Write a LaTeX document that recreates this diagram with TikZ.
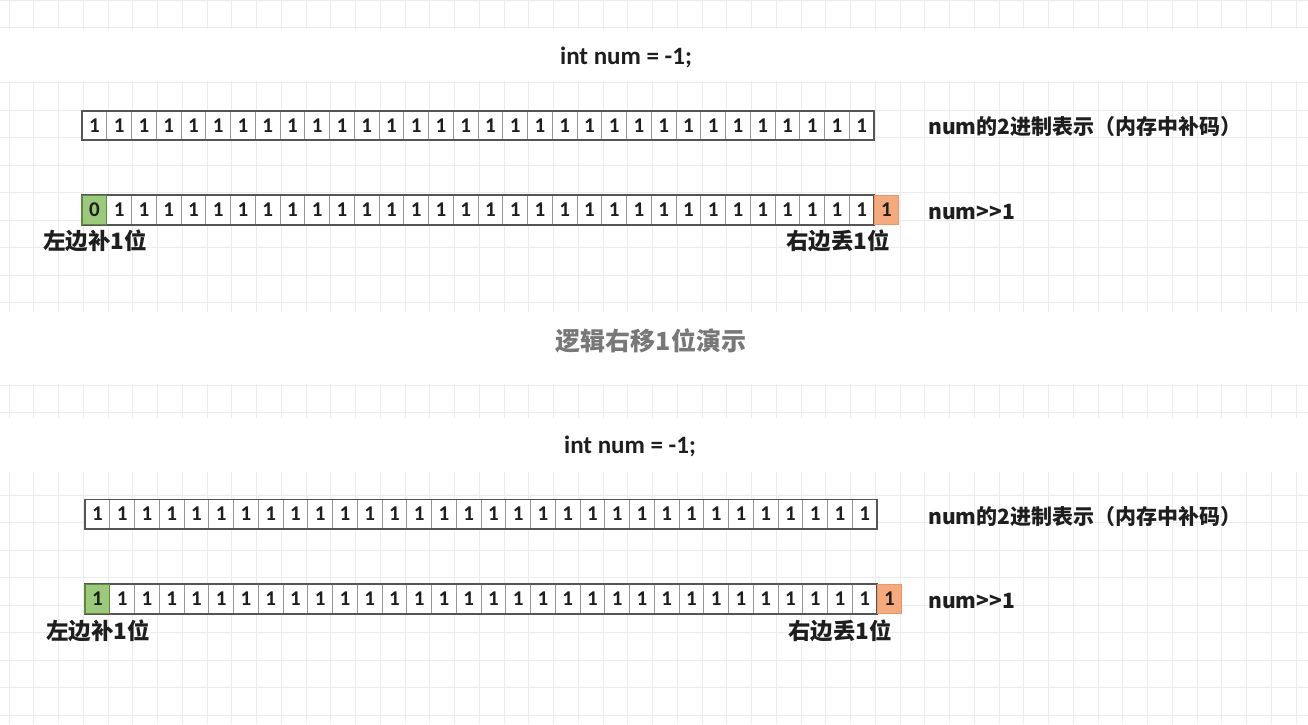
\documentclass[tikz,border=0pt]{standalone}
\usepackage{fontspec}
\setmainfont{Noto Sans CJK SC}
\newfontfamily\digitfont{Carlito}
\definecolor{gridc}{RGB}{236,236,236}
\definecolor{sepc}{RGB}{150,150,150}
\definecolor{framec}{RGB}{85,85,85}
\definecolor{greenfill}{RGB}{156,202,123}
\definecolor{greenline}{RGB}{95,135,65}
\definecolor{orangefill}{RGB}{244,170,125}
\definecolor{orangeline}{RGB}{235,150,100}
\definecolor{capc}{RGB}{120,120,120}
\definecolor{txtc}{RGB}{30,30,30}
\tikzset{
  x=1pt, y=-1pt,
  bit/.style={draw=sepc, line width=0.7pt, fill=white, minimum width=24.75pt, minimum height=28.5pt,
    inner sep=0pt, text=txtc, font=\digitfont\bfseries\fontsize{21}{21}\selectfont},
  gbit/.style={bit, fill=greenfill, draw=greenline, line width=1.2pt},
  obit/.style={bit, fill=orangefill, draw=orangeline, line width=1pt},
  frame/.style={draw=framec, line width=1.8pt},
  codetxt/.style={text=txtc, font=\digitfont\bfseries\fontsize{25}{25}\selectfont},
  lbl/.style={text=txtc, font=\bfseries\fontsize{21}{21}\selectfont, inner sep=0pt},
  sublbl/.style={lbl, font=\bfseries\fontsize{22.5}{22.5}\selectfont},
  captiontxt/.style={text=capc, font=\bfseries\fontsize{25}{25}\selectfont},
}
\begin{document}
\begin{tikzpicture}
\useasboundingbox (0,0) rectangle (1308,724);
\fill[white] (0,0) rectangle (1308,724);
% background grid
\foreach \gx in {0,...,53} \draw[gridc, line width=1pt] ({9+\gx*24.75},0) -- ({9+\gx*24.75},724);
\foreach \gy in {0,...,26} \draw[gridc, line width=1pt] (0,{0+\gy*27.5}) -- (1308,{0+\gy*27.5});
\fill[white] (0,29) rectangle (1308,81);
\fill[white] (0,312) rectangle (1308,384);
\fill[white] (0,418) rectangle (1308,472);

% ---------- top section ----------
\node[codetxt] (code1) at (626,57) {int num = -1;};
\foreach \i in {1,...,32} \node[bit] (a\i) at ({82+(\i-0.5)*24.75},125.5) {1};
\draw[frame] (a1.north west) rectangle (a32.south east);
\node[lbl, anchor=west] (la) at (928,127) {num的2进制表示（内存中补码）};

\node[gbit] (b1) at ({82+0.5*24.75},210) {0};
\foreach \i in {2,...,32} \node[bit] (b\i) at ({82+(\i-0.5)*24.75},210) {1};
\draw[frame] (b1.north west) rectangle (b32.south east);
\node[gbit] at (b1) {0};
\node[obit] (b33) at ({82+32.5*24.75},210) {1};
\node[lbl, anchor=west] (lb) at (928,212) {num{>}{>}1};
\node[sublbl] (lpadA) at (95,241) {左边补1位};
\node[sublbl] (ldropA) at (838,241) {右边丢1位};

\node[captiontxt] (caption) at (651,341) {逻辑右移1位演示};

% ---------- bottom section ----------
\node[codetxt] (code2) at (630,446) {int num = -1;};
\foreach \i in {1,...,32} \node[bit] (c\i) at ({85+(\i-0.5)*24.75},514) {1};
\draw[frame] (c1.north west) rectangle (c32.south east);
\node[lbl, anchor=west] (lc) at (928,517) {num的2进制表示（内存中补码）};

\node[gbit] (d1) at ({85+0.5*24.75},599) {1};
\foreach \i in {2,...,32} \node[bit] (d\i) at ({85+(\i-0.5)*24.75},599) {1};
\draw[frame] (d1.north west) rectangle (d32.south east);
\node[gbit] at (d1) {1};
\node[obit] (d33) at ({85+32.5*24.75},599) {1};
\node[lbl, anchor=west] (ld) at (928,601) {num{>}{>}1};
\node[sublbl] (lpadB) at (98,631) {左边补1位};
\node[sublbl] (ldropB) at (840,631) {右边丢1位};
\end{tikzpicture}
\end{document}
